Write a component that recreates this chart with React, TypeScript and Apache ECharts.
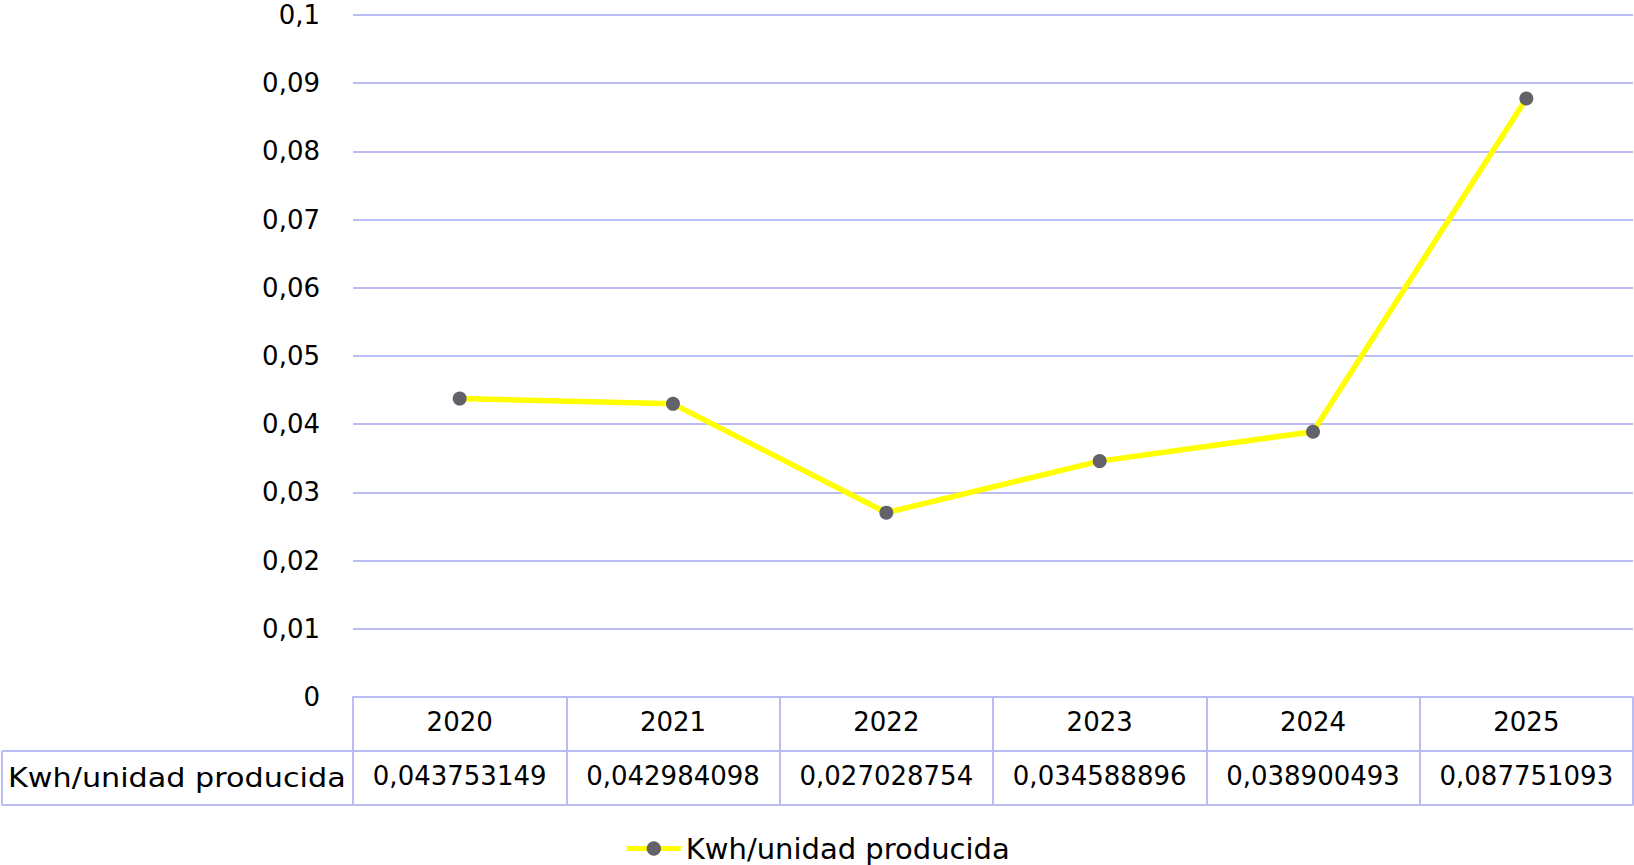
import React, { useEffect, useRef } from "react";
import * as echarts from "echarts";

const years = ["2020", "2021", "2022", "2023", "2024", "2025"];
const values = [0.043753149, 0.042984098, 0.027028754, 0.034588896, 0.038900493, 0.087751093];
const valueLabels = ["0,043753149", "0,042984098", "0,027028754", "0,034588896", "0,038900493", "0,087751093"];
const seriesName = "Kwh/unidad producida";

const FONT = "DejaVu Sans";
const BORDER = "#bcbcf4";
const FS = 26;

export default function App() {
  const ref = useRef<HTMLDivElement>(null);
  useEffect(() => {
    document.body.style.margin = "0";
    const chart = echarts.init(ref.current!, null, { renderer: "svg" });
    const L = 353, R = 1633, T = 15, B0 = 697, ROW = 54;
    chart.setOption({
      animation: false,
      textStyle: { fontFamily: FONT },
      grid: { left: L, right: 1634 - R, top: T, bottom: 865 - B0, containLabel: false },
      legend: {
        top: 829,
        left: "center",
        itemWidth: 54,
        itemHeight: 18,
        itemGap: 6,
        lineStyle: { width: 5 },
        textStyle: { fontSize: 29, color: "#000", fontFamily: FONT },
        data: [seriesName],
      },
      xAxis: [
        {
          type: "category",
          data: years,
          boundaryGap: true,
          position: "bottom",
          axisLine: { show: true, lineStyle: { color: BORDER, width: 2 } },
          axisTick: { show: true, interval: 0, alignWithLabel: false, length: ROW, lineStyle: { color: BORDER, width: 2 } },
          axisLabel: { fontSize: FS, color: "#000", margin: 12, interval: 0, fontFamily: FONT },
        },
        {
          type: "category",
          data: valueLabels,
          boundaryGap: true,
          position: "bottom",
          offset: ROW,
          axisLine: { show: true, lineStyle: { color: BORDER, width: 2 } },
          axisTick: { show: true, interval: 0, alignWithLabel: false, length: ROW, lineStyle: { color: BORDER, width: 2 } },
          axisLabel: { fontSize: FS, color: "#000", margin: 12, interval: 0, hideOverlap: false, fontFamily: FONT },
        },
        {
          type: "category",
          data: years,
          boundaryGap: true,
          position: "bottom",
          offset: ROW * 2,
          axisLine: { show: true, lineStyle: { color: BORDER, width: 2 } },
          axisTick: { show: false },
          axisLabel: { show: false },
        },
      ],
      yAxis: {
        type: "value",
        min: 0,
        max: 0.1,
        interval: 0.01,
        axisLine: { show: false },
        axisTick: { show: false },
        axisLabel: {
          fontSize: FS,
          lineHeight: 28,
          color: "#000",
          margin: 33,
          fontFamily: FONT,
          formatter: (v: number) => (v === 0 ? "0" : String(+v.toFixed(2)).replace(".", ",")),
        },
        splitLine: { lineStyle: { color: BORDER, width: 2 } },
      },
      graphic: [
        { type: "line", shape: { x1: 2, y1: B0 + ROW, x2: L, y2: B0 + ROW }, style: { stroke: BORDER, lineWidth: 2 } },
        { type: "line", shape: { x1: 2, y1: B0 + ROW * 2, x2: L, y2: B0 + ROW * 2 }, style: { stroke: BORDER, lineWidth: 2 } },
        { type: "line", shape: { x1: 2, y1: B0 + ROW, x2: 2, y2: B0 + ROW * 2 }, style: { stroke: BORDER, lineWidth: 2 } },
        {
          type: "text",
          x: 8,
          y: B0 + ROW * 1.5,
          scaleX: 1.12,
          style: { text: seriesName, fontSize: 27, fill: "#000", fontFamily: FONT, verticalAlign: "middle", align: "left" },
        },
      ],
      series: [
        {
          name: seriesName,
          type: "line",
          data: values,
          xAxisIndex: 0,
          symbol: "circle",
          symbolSize: 14,
          itemStyle: { color: "#626268" },
          lineStyle: { color: "#ffff00", width: 5.5 },
        },
      ],
    });
    return () => chart.dispose();
  }, []);
  return <div ref={ref} style={{ width: 1634, height: 865 }} />;
}
